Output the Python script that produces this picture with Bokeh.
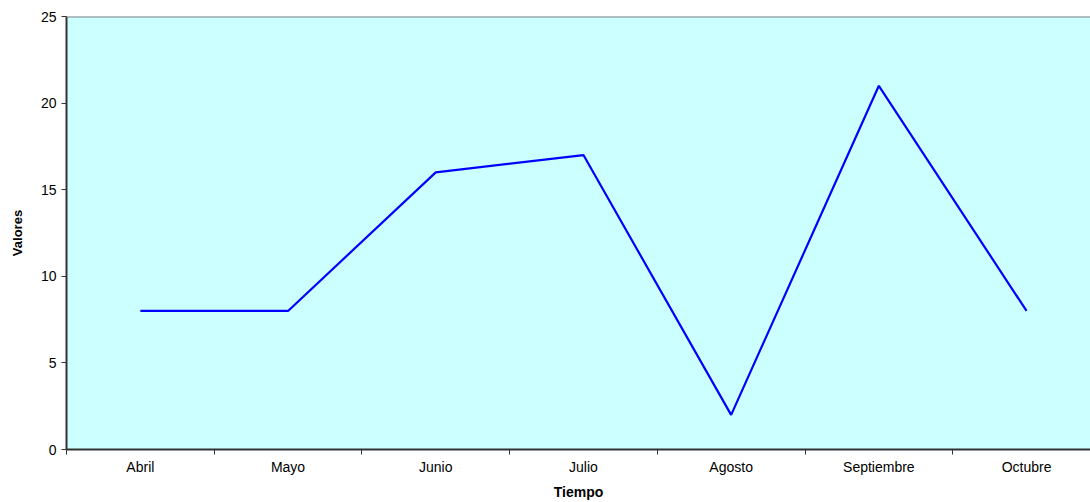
from bokeh.plotting import figure
from bokeh.models import Range1d, FixedTicker, Span
from bokeh.embed import file_html
from bokeh.resources import INLINE

categories = ["Abril", "Mayo", "Junio", "Julio", "Agosto", "Septiembre", "Octubre"]
values = [8, 8, 16, 17, 2, 21, 8]
y_ticks = [0, 5, 10, 15, 20, 25]

xs = list(range(1, len(categories) + 1))

p = figure(width=1090, height=502, output_backend="svg", toolbar_location=None,
           x_range=Range1d(0.5, 0.5 + 1024 / 147.7), y_range=Range1d(0, 25),
           min_border_left=66, min_border_right=0, min_border_top=16, min_border_bottom=53)
p.frame_width = 1024
p.frame_height = 433
p.background_fill_color = "#CCFFFF"
p.border_fill_color = "white"
p.outline_line_color = None
p.grid.visible = False

p.line(xs, values, line_color="#0000FF", line_width=2.2)

p.add_layout(Span(location=25, dimension="width", line_color="#808080", line_width=2))

font = "Liberation Sans"
xa = p.xaxis[0]
xa.ticker = FixedTicker(ticks=xs, minor_ticks=[x + 0.5 for x in range(0, len(categories))])
xa.major_label_overrides = {x: c for x, c in zip(xs, categories)}
xa.major_tick_out = 0
xa.major_tick_in = 0
xa.minor_tick_out = 5
xa.minor_tick_in = 0
xa.minor_tick_line_color = "#333333"
xa.axis_line_color = "#333333"
xa.axis_line_width = 2
xa.major_label_standoff = 4
xa.major_label_text_font = font
xa.major_label_text_font_size = "14px"
xa.major_label_text_color = "black"
xa.axis_label = "Tiempo"
xa.axis_label_text_font = font
xa.axis_label_text_font_size = "14px"
xa.axis_label_text_font_style = "bold"
xa.axis_label_text_color = "black"
xa.axis_label_standoff = 6

ya = p.yaxis[0]
ya.ticker = FixedTicker(ticks=y_ticks, minor_ticks=[])
ya.major_tick_out = 5
ya.major_tick_in = 0
ya.major_tick_line_color = "#333333"
ya.minor_tick_out = 0
ya.minor_tick_in = 0
ya.axis_line_color = "#333333"
ya.axis_line_width = 2
ya.major_label_standoff = 5
ya.major_label_text_font = font
ya.major_label_text_font_size = "14px"
ya.major_label_text_color = "black"
ya.axis_label = "Valores"
ya.axis_label_text_font = font
ya.axis_label_text_font_size = "13px"
ya.axis_label_text_font_style = "bold"
ya.axis_label_text_color = "black"
ya.axis_label_standoff = 13

open("out.html", "w").write(file_html(p, INLINE))
